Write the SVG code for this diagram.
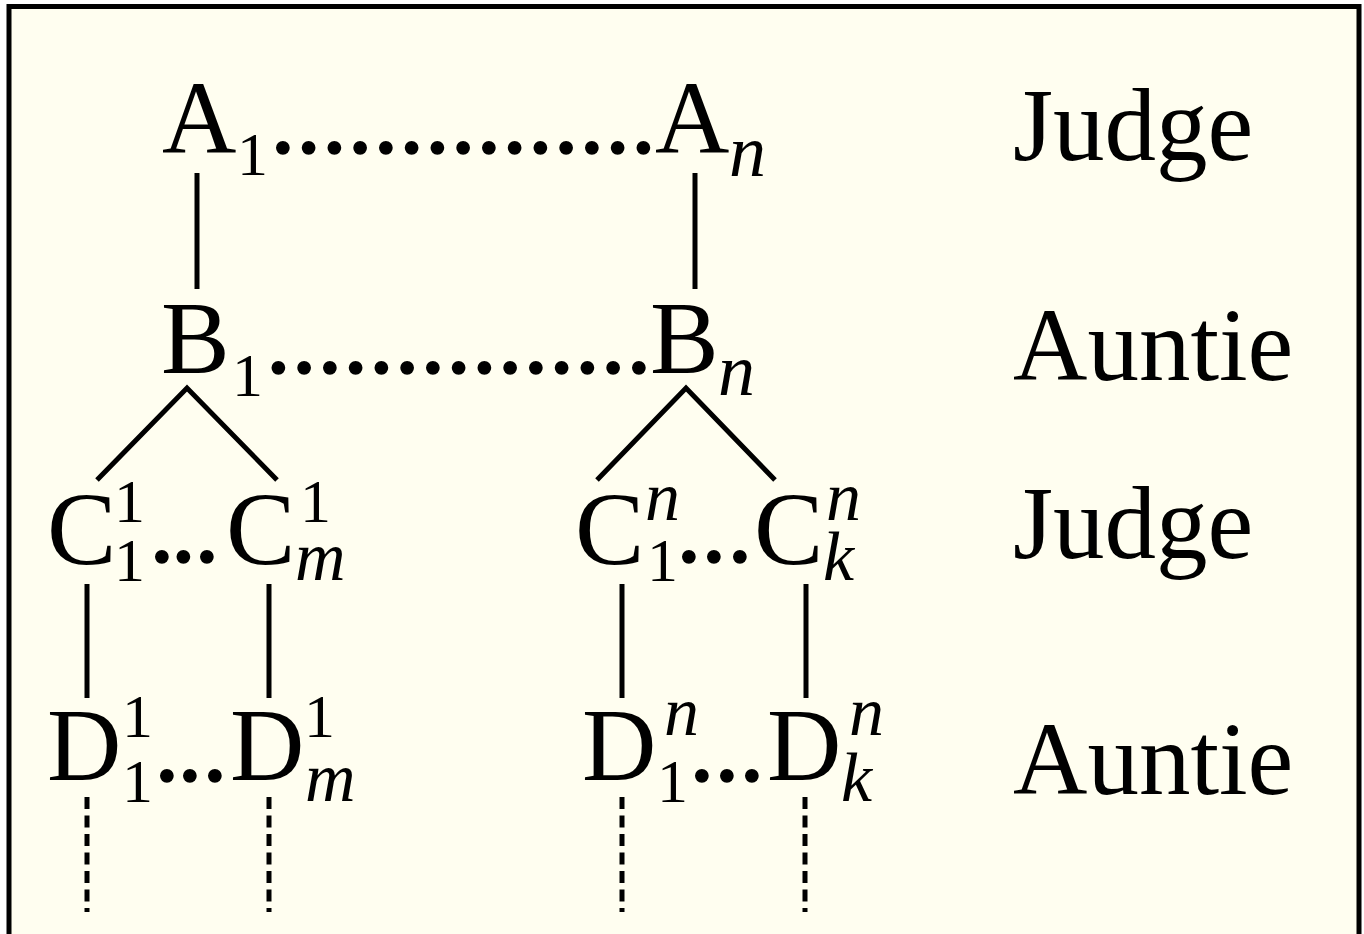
<svg xmlns="http://www.w3.org/2000/svg" width="1364" height="934" viewBox="0 0 1364 934">
  <style>
    text { font-family: "Liberation Serif", "Times New Roman", serif; fill: #000; }
    .big { font-size: 103px; }
    .c { font-size: 104px; }
    .dots { font-size: 103px; stroke: #000; stroke-width: 1.6; }
    .num { font-size: 62px; }
    .it { font-style: italic; font-size: 74px; }
    .its { font-style: italic; font-size: 70px; }
    .lbl { font-size: 103px; }
    .edge { stroke: #000; stroke-width: 5; fill: none; }
    .dash { stroke: #000; stroke-width: 5; fill: none; stroke-dasharray: 12 6.5; }
  </style>

  <rect x="0" y="0" width="1364" height="934" fill="#ffffff"/>
  <rect x="9" y="6.5" width="1350" height="940" fill="#fffef0" stroke="#000" stroke-width="5"/>

  <!-- connectors -->
  <g id="connectors">
    <line class="edge" x1="197" y1="173" x2="197" y2="289"/>
    <line class="edge" x1="695" y1="173" x2="695" y2="289"/>
    <polyline class="edge" points="97,480 187,388 277,480"/>
    <polyline class="edge" points="597,480 686,388 775,480"/>
    <line class="edge" x1="87" y1="584" x2="87" y2="698"/>
    <line class="edge" x1="269" y1="584" x2="269" y2="698"/>
    <line class="edge" x1="622" y1="584" x2="622" y2="698"/>
    <line class="edge" x1="806" y1="584" x2="806" y2="698"/>
    <line class="dash" x1="87" y1="797" x2="87" y2="912"/>
    <line class="dash" x1="269" y1="797" x2="269" y2="912"/>
    <line class="dash" x1="622" y1="797" x2="622" y2="912"/>
    <line class="dash" x1="805" y1="797" x2="805" y2="912"/>
  </g>

  <!-- row A -->
  <g id="rowA">
    <text class="big" x="162" y="153">A</text>
    <text class="num" x="237" y="175">1</text>
    <text class="dots" x="270" y="153">...............</text>
    <text class="big" x="655" y="153">A</text>
    <text class="it" x="729" y="176">n</text>
  </g>

  <!-- row B -->
  <g id="rowB">
    <text class="big" x="161" y="373">B</text>
    <text class="num" x="232" y="396">1</text>
    <text class="dots" x="265.5" y="373">...............</text>
    <text class="big" x="650" y="373">B</text>
    <text class="it" x="718" y="395">n</text>
  </g>

  <!-- row C, left group -->
  <g id="rowC1">
    <text class="c" x="47" y="564">C</text>
    <text class="num" x="114" y="522">1</text>
    <text class="num" x="114" y="581">1</text>
    <text class="dots" x="149 170.5 194" y="562">...</text>
    <text class="c" x="226" y="564">C</text>
    <text class="num" x="300" y="522">1</text>
    <text class="its" x="295" y="580">m</text>
  </g>

  <!-- row C, right group -->
  <g id="rowCn">
    <text class="c" x="575" y="564">C</text>
    <text class="its" x="645" y="520">n</text>
    <text class="num" x="647" y="581">1</text>
    <text class="dots" x="676 701 727" y="562">...</text>
    <text class="c" x="754" y="564">C</text>
    <text class="its" x="826" y="520">n</text>
    <text class="its" x="823" y="580">k</text>
  </g>

  <!-- row D, left group -->
  <g id="rowD1">
    <text class="big" x="47" y="780">D</text>
    <text class="num" x="122" y="737">1</text>
    <text class="num" x="122" y="802">1</text>
    <text class="dots" x="154 177 202" y="781">...</text>
    <text class="big" x="230" y="780">D</text>
    <text class="num" x="304" y="737">1</text>
    <text class="its" x="305" y="801">m</text>
  </g>

  <!-- row D, right group -->
  <g id="rowDn">
    <text class="big" x="582" y="780">D</text>
    <text class="its" x="664" y="735">n</text>
    <text class="num" x="657" y="802">1</text>
    <text class="dots" x="689 714 739" y="781">...</text>
    <text class="big" x="767" y="780">D</text>
    <text class="its" x="849" y="735">n</text>
    <text class="its" x="841" y="801">k</text>
  </g>

  <!-- level labels -->
  <g id="labels">
    <text class="lbl" x="1013" y="160">Judge</text>
    <text class="lbl" x="1013" y="380">Auntie</text>
    <text class="lbl" x="1013" y="558">Judge</text>
    <text class="lbl" x="1013" y="794">Auntie</text>
  </g>
</svg>
